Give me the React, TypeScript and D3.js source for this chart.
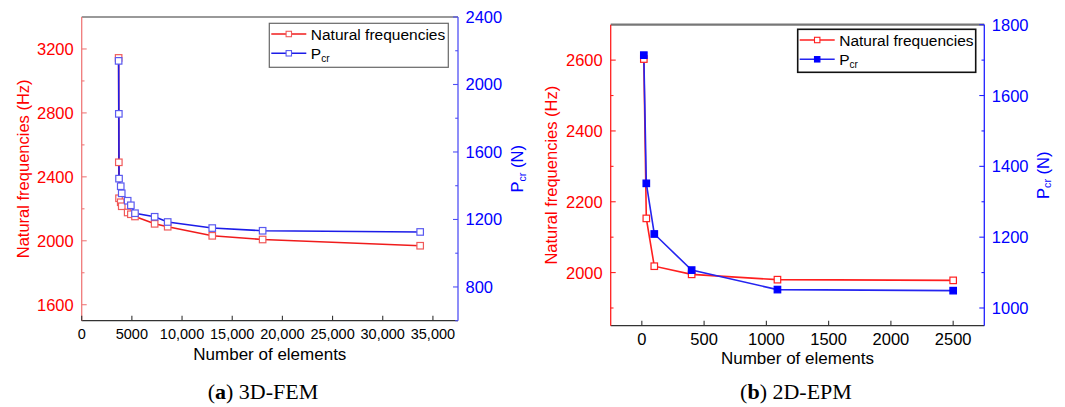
import React from 'react';
import * as d3 from 'd3';

// (a) 3D-FEM
const FEM_ELEMENTS = [3680, 3700, 3720, 3890, 3990, 4580, 4900, 5310, 7270, 8570, 13010, 18030, 33730];
const FEM_FREQ = [3144, 2491, 2266, 2241, 2216, 2177, 2166, 2152, 2106, 2088, 2031, 2008, 1969];
const FEM_PCR = [2140, 1826, 1442, 1397, 1355, 1311, 1284, 1237, 1216, 1185, 1149, 1133, 1126];
const FEM_X_TICKS = [0, 5000, 10000, 15000, 20000, 25000, 30000, 35000];
const FEM_FREQ_TICKS = [1600, 2000, 2400, 2800, 3200];
const FEM_PCR_TICKS = [800, 1200, 1600, 2000, 2400];

// (b) 2D-EPM
const EPM_ELEMENTS = [16, 36, 100, 400, 1089, 2500];
const EPM_FREQ = [2603, 2153, 2018, 1995, 1980, 1978];
const EPM_PCR = [1714, 1352, 1209, 1107, 1052, 1049];
const EPM_X_TICKS = [0, 500, 1000, 1500, 2000, 2500];
const EPM_FREQ_TICKS = [2000, 2200, 2400, 2600];
const EPM_PCR_TICKS = [1000, 1200, 1400, 1600, 1800];

const FONT = '"Liberation Sans", Arial, sans-serif';
const RED = '#ff0000';
const BLUE = '#0000ff';

type PanelProps = {
  box: { x0: number; x1: number; y0: number; y1: number };
  xDomain: [number, number];
  lDomain: [number, number];
  rDomain: [number, number];
  xTicks: number[];
  lTicks: number[];
  rTicks: number[];
  lMinor: number;
  rMinor: number;
  xs: number[];
  freq: number[];
  pcr: number[];
  xFmt: (v: number) => string;
  xTickSize: number;
  lTitleX: number;
  rTitleX: number;
  xTitleY: number;
  xTickY: number;
  legend: { x: number; y: number; w: number; h: number; stroke: string; sw: number };
  filled: boolean;
  markerSize: number;
  lineRed: string;
  lineBlue: string;
  mkRed: string;
  mkBlue: string;
  lAxisColor: string;
  rAxisColor: string;
  topSW: number;
  caption: [string, string];
  captionX: number;
};

// P with subscript "cr", optionally followed by the unit
function Pcr({ size, unit }: { size: number; unit?: string }) {
  const shift = size * 0.28;
  return (
    <>
      <tspan>P</tspan>
      <tspan fontSize={size * 0.65} dy={shift}>cr</tspan>
      {unit ? <tspan dy={-shift}>{' ' + unit}</tspan> : null}
    </>
  );
}

function Panel(p: PanelProps) {
  const { box } = p;
  const x = d3.scaleLinear().domain(p.xDomain).range([box.x0, box.x1]);
  const yl = d3.scaleLinear().domain(p.lDomain).range([box.y1, box.y0]);
  const yr = d3.scaleLinear().domain(p.rDomain).range([box.y1, box.y0]);

  const lineF = d3.line<number>().x((_, i) => x(p.xs[i])).y((d) => yl(d));
  const lineP = d3.line<number>().x((_, i) => x(p.xs[i])).y((d) => yr(d));

  const lMinor = d3
    .range(Math.ceil(p.lDomain[0] / p.lMinor) * p.lMinor, p.lDomain[1], p.lMinor)
    .filter((v) => !p.lTicks.includes(v));
  const rMinor = d3
    .range(Math.ceil(p.rDomain[0] / p.rMinor) * p.rMinor, p.rDomain[1], p.rMinor)
    .filter((v) => !p.rTicks.includes(v));

  const ms = p.markerSize;
  const cy = (box.y0 + box.y1) / 2;
  const cx = (box.x0 + box.x1) / 2;
  const lg = p.legend;

  return (
    <g fontFamily={FONT}>
      {/* frame */}
      <line x1={box.x0} x2={box.x1} y1={box.y0} y2={box.y0} stroke="#777" strokeWidth={p.topSW} />
      <line x1={box.x0} x2={box.x1} y1={box.y1} y2={box.y1} stroke="#333" strokeWidth={1.3} />
      <line x1={box.x0} x2={box.x0} y1={box.y0} y2={box.y1} stroke={p.lAxisColor} strokeWidth={1.3} />
      <line x1={box.x1} x2={box.x1} y1={box.y0} y2={box.y1} stroke={p.rAxisColor} strokeWidth={1.3} />

      {/* x axis */}
      {p.xTicks.map((t) => (
        <g key={'x' + t}>
          <line x1={x(t)} x2={x(t)} y1={box.y1} y2={box.y1 - 5} stroke="#333" strokeWidth={1.1} />
          <text x={x(t)} y={p.xTickY} textAnchor="middle" dominantBaseline="central" fontSize={p.xTickSize} fill="#000">
            {p.xFmt(t)}
          </text>
        </g>
      ))}
      <text x={cx} y={p.xTitleY} textAnchor="middle" dominantBaseline="central" fontSize={17} fill="#000">
        Number of elements
      </text>

      {/* left axis */}
      {p.lTicks.map((t) => (
        <g key={'l' + t}>
          <line x1={box.x0} x2={box.x0 + 5} y1={yl(t)} y2={yl(t)} stroke={p.lAxisColor} strokeWidth={1.1} />
          <text x={box.x0 - 8} y={yl(t)} textAnchor="end" dominantBaseline="central" fontSize={16.5} fill={RED}>
            {t}
          </text>
        </g>
      ))}
      {lMinor.map((t) => (
        <line key={'lm' + t} x1={box.x0} x2={box.x0 + 2.8} y1={yl(t)} y2={yl(t)} stroke={p.lAxisColor} strokeWidth={1.1} />
      ))}
      <text
        transform={`translate(${p.lTitleX},${cy}) rotate(-90)`}
        textAnchor="middle"
        dominantBaseline="central"
        fontSize={16.5}
        fill={RED}
      >
        Natural frequencies (Hz)
      </text>

      {/* right axis */}
      {p.rTicks.map((t) => (
        <g key={'r' + t}>
          <line x1={box.x1} x2={box.x1 - 5} y1={yr(t)} y2={yr(t)} stroke={p.rAxisColor} strokeWidth={1.1} />
          <text x={box.x1 + 7.5} y={yr(t)} textAnchor="start" dominantBaseline="central" fontSize={16.5} fill={BLUE}>
            {t}
          </text>
        </g>
      ))}
      {rMinor.map((t) => (
        <line key={'rm' + t} x1={box.x1} x2={box.x1 - 2.8} y1={yr(t)} y2={yr(t)} stroke={p.rAxisColor} strokeWidth={1.1} />
      ))}
      <text
        transform={`translate(${p.rTitleX},${cy}) rotate(-90)`}
        textAnchor="middle"
        dominantBaseline="central"
        fontSize={16.5}
        fill={BLUE}
      >
        <Pcr size={16.5} unit="(N)" />
      </text>

      {/* series */}
      <path d={lineF(p.freq) || ''} fill="none" stroke={p.lineRed} strokeWidth={1.6} />
      <path d={lineP(p.pcr) || ''} fill="none" stroke={p.lineBlue} strokeWidth={1.6} />
      {p.freq.map((v, i) => (
        <rect key={'fm' + i} x={x(p.xs[i]) - ms / 2} y={yl(v) - ms / 2} width={ms} height={ms} fill="#fff" stroke={p.mkRed} strokeWidth={1.2} />
      ))}
      {p.pcr.map((v, i) => (
        <rect
          key={'pm' + i}
          x={x(p.xs[i]) - ms / 2}
          y={yr(v) - ms / 2}
          width={ms}
          height={ms}
          fill={p.filled ? p.mkBlue : '#fff'}
          stroke={p.mkBlue}
          strokeWidth={1.2}
        />
      ))}

      {/* legend */}
      <rect x={lg.x} y={lg.y} width={lg.w} height={lg.h} fill="#fff" stroke={lg.stroke} strokeWidth={lg.sw} />
      {[0, 1].map((k) => {
        const ly = lg.y + 10.7 + k * 19.3;
        const col = k === 0 ? p.lineRed : p.lineBlue;
        const mk = k === 0 ? p.mkRed : p.mkBlue;
        const fill = k === 1 && p.filled ? p.mkBlue : '#fff';
        return (
          <g key={'lg' + k}>
            <line x1={lg.x + 2} x2={lg.x + 37} y1={ly} y2={ly} stroke={col} strokeWidth={1.6} />
            <rect x={lg.x + 19.5 - ms / 2.4} y={ly - ms / 2.4} width={ms / 1.2} height={ms / 1.2} fill={fill} stroke={mk} strokeWidth={1.1} />
            <text x={lg.x + 41.5} y={ly} dominantBaseline="central" fontSize={15.5} fill="#000">
              {k === 0 ? 'Natural frequencies' : <Pcr size={15.5} />}
            </text>
          </g>
        );
      })}

      {/* caption */}
      <text x={p.captionX} y={399} textAnchor="middle" fontFamily='"Liberation Serif", "Times New Roman", serif' fontSize={22} fill="#000">
        <tspan>(</tspan>
        <tspan fontWeight="bold">{p.caption[0]}</tspan>
        <tspan>) {p.caption[1]}</tspan>
      </text>
    </g>
  );
}

const femFmt = (v: number) => (v >= 10000 ? d3.format(',')(v) : String(v));

export default function App() {
  return (
    <div style={{ position: 'absolute', left: 0, top: 0, width: 1065, height: 407, background: '#fff' }}>
      <svg width={1065} height={407} viewBox="0 0 1065 407">
        <rect width={1065} height={407} fill="#fff" />
        <Panel
          box={{ x0: 81.7, x1: 458, y0: 17, y1: 320.7 }}
          xDomain={[0, 37500]}
          lDomain={[1500, 3400]}
          rDomain={[600, 2400]}
          xTicks={FEM_X_TICKS}
          lTicks={FEM_FREQ_TICKS}
          rTicks={FEM_PCR_TICKS}
          lMinor={200}
          rMinor={200}
          xs={FEM_ELEMENTS}
          freq={FEM_FREQ}
          pcr={FEM_PCR}
          xFmt={femFmt}
          xTickSize={14.5}
          lTitleX={22.5}
          rTitleX={517.3}
          xTitleY={354}
          xTickY={334}
          legend={{ x: 269.3, y: 23.3, w: 179, h: 44, stroke: '#666', sw: 1.2 }}
          filled={false}
          markerSize={6.5}
          lineRed="#f01c1c"
          lineBlue="#1c1ce8"
          mkRed="#f05a5a"
          mkBlue="#5a5af0"
          lAxisColor="#f07a7a"
          rAxisColor="#5050f5"
          topSW={1.4}
          caption={['a', '3D-FEM']}
          captionX={263}
        />
        <Panel
          box={{ x0: 610.7, x1: 984.3, y0: 24.7, y1: 325.7 }}
          xDomain={[-250, 2750]}
          lDomain={[1850, 2700]}
          rDomain={[950, 1800]}
          xTicks={EPM_X_TICKS}
          lTicks={EPM_FREQ_TICKS}
          rTicks={EPM_PCR_TICKS}
          lMinor={100}
          rMinor={100}
          xs={EPM_ELEMENTS}
          freq={EPM_FREQ}
          pcr={EPM_PCR}
          xFmt={(v) => String(v)}
          xTickSize={16.5}
          lTitleX={551}
          rTitleX={1042.7}
          xTitleY={358}
          xTickY={339}
          legend={{ x: 797.7, y: 29.3, w: 178, h: 43, stroke: '#111', sw: 1.6 }}
          filled={true}
          markerSize={6.5}
          lineRed="#ff1f1f"
          lineBlue="#2424f0"
          mkRed="#ff2020"
          mkBlue="#0000ff"
          lAxisColor="#ff2020"
          rAxisColor="#2020ff"
          topSW={2.2}
          caption={['b', '2D-EPM']}
          captionX={796}
        />
      </svg>
    </div>
  );
}
